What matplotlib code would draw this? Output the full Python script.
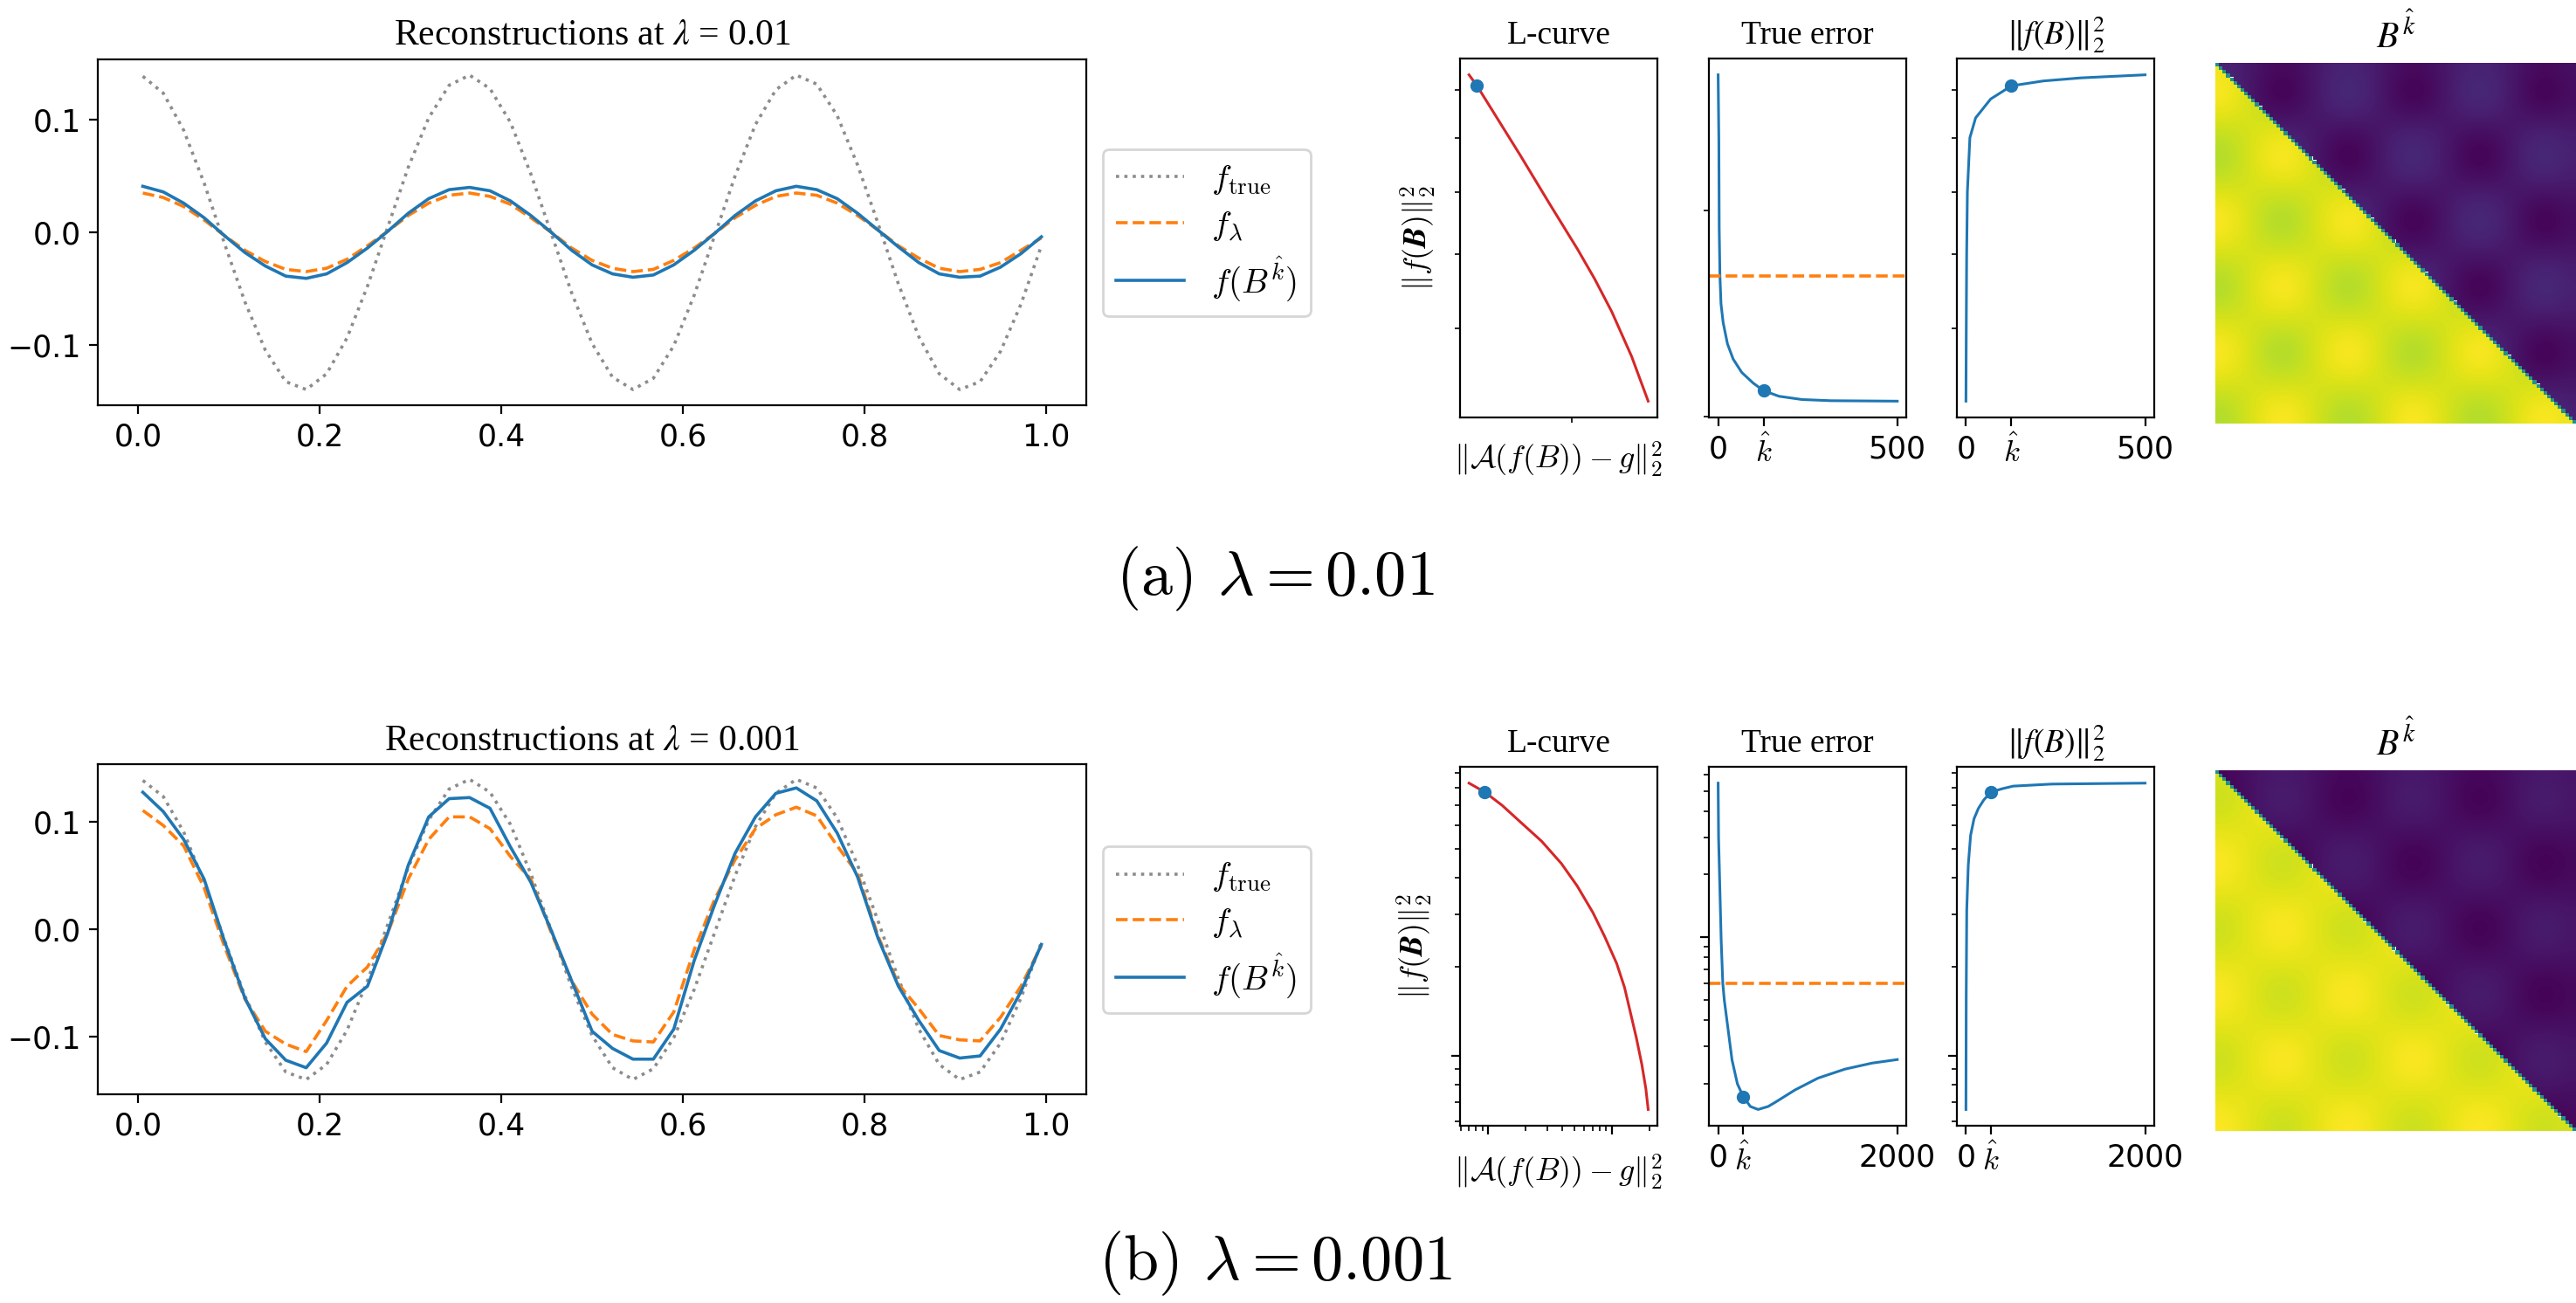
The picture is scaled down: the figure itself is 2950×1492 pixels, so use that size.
import matplotlib

matplotlib.use("Agg")
import matplotlib.pyplot as plt
import numpy as np
from matplotlib.patches import Polygon
from matplotlib.ticker import FixedLocator, NullFormatter

plt.rcParams["xtick.labelsize"] = 12.5
plt.rcParams["ytick.labelsize"] = 12.5

# sample positions of the reconstructions on [0, 1]
x_grid = np.linspace(0.005, 0.995, 45)

f_true = [0.139, 0.124, 0.091, 0.044, -0.010, -0.062, -0.105, -0.133, -0.140, -0.126,
          -0.094, -0.048, 0.005, 0.058, 0.102, 0.131, 0.140, 0.128, 0.098, 0.052,
          -0.001, -0.054, -0.099, -0.129, -0.140, -0.130, -0.101, -0.056, -0.003, 0.050,
          0.096, 0.127, 0.140, 0.132, 0.104, 0.060, 0.008, -0.046, -0.093, -0.126,
          -0.140, -0.133, -0.106, -0.064, -0.012]

# (a) lambda = 0.01
f_lam_a = [0.035, 0.031, 0.023, 0.011, -0.003, -0.016, -0.026, -0.033, -0.035, -0.032,
           -0.024, -0.012, 0.001, 0.015, 0.026, 0.033, 0.035, 0.032, 0.025, 0.013,
           0.000, -0.014, -0.025, -0.032, -0.035, -0.033, -0.025, -0.014, -0.001, 0.013,
           0.024, 0.032, 0.035, 0.033, 0.026, 0.015, 0.002, -0.012, -0.023, -0.032,
           -0.035, -0.033, -0.027, -0.016, -0.005]
f_bk_a = [0.041, 0.036, 0.026, 0.013, -0.003, -0.018, -0.030, -0.039, -0.041, -0.037,
          -0.027, -0.014, 0.001, 0.017, 0.030, 0.038, 0.040, 0.037, 0.028, 0.015,
          0.000, -0.016, -0.029, -0.037, -0.040, -0.038, -0.029, -0.016, -0.001, 0.015,
          0.028, 0.037, 0.041, 0.038, 0.030, 0.017, 0.002, -0.013, -0.027, -0.037,
          -0.040, -0.039, -0.031, -0.019, -0.004]

# (b) lambda = 0.001
f_lam_b = [0.111, 0.097, 0.078, 0.039, -0.016, -0.065, -0.095, -0.107, -0.114, -0.085,
           -0.053, -0.035, -0.003, 0.047, 0.084, 0.105, 0.105, 0.094, 0.068, 0.047,
           -0.003, -0.048, -0.079, -0.098, -0.104, -0.105, -0.077, -0.019, 0.028, 0.065,
           0.094, 0.107, 0.114, 0.106, 0.078, 0.052, -0.006, -0.051, -0.074, -0.099,
           -0.103, -0.104, -0.082, -0.053, -0.015]
f_bk_b = [0.128, 0.110, 0.084, 0.047, -0.011, -0.064, -0.102, -0.122, -0.129, -0.106,
          -0.068, -0.053, -0.003, 0.060, 0.105, 0.122, 0.123, 0.113, 0.077, 0.044,
          -0.001, -0.048, -0.095, -0.111, -0.121, -0.121, -0.093, -0.029, 0.023, 0.071,
          0.105, 0.127, 0.132, 0.120, 0.090, 0.049, -0.008, -0.053, -0.085, -0.113,
          -0.120, -0.118, -0.093, -0.058, -0.014]

# L-curve, true error and norm curves over iterations k
k_hat_a = 127
lc_res_a = [2.477, 2.364, 2.237, 2.132, 2.032, 1.877, 1.733, 1.534, 1.500]
lc_norm_a = [4.18, 4.67, 5.21, 5.65, 6.08, 6.81, 7.65, 9.09, 9.34]
lc_dot_a = (1.534, 9.09)
err_k_a = [0, 2, 3, 5, 8, 14, 26, 42, 66, 98, 127, 170, 234, 314, 500]
err_a = [4.83, 4.41, 3.90, 3.65, 3.51, 3.42, 3.32, 3.25, 3.19, 3.143, 3.11, 3.086, 3.072, 3.067, 3.065]
err_lam_a = 3.65
norm_k_a = [0, 1, 2, 4, 11, 27, 69, 127, 216, 321, 500]
norm_a = [4.18, 5.1, 6.0, 7.0, 8.0, 8.4, 8.8, 9.09, 9.2, 9.27, 9.34]

k_hat_b = 280
lc_res_b = [19.63, 18.79, 17.46, 15.76, 14.22, 12.65, 10.92, 8.76, 7.03, 5.245, 3.912,
            2.712, 1.878, 1.302, 0.943, 0.703]
lc_norm_b = [0.659, 0.775, 0.933, 1.149, 1.38, 1.70, 2.05, 2.52, 3.04, 3.74, 4.45,
             5.29, 6.08, 6.99, 7.75, 8.31]
lc_dot_b = (0.943, 7.75)
err_k_b = [0, 5, 17, 34, 52, 69, 112, 155, 215, 280, 360, 446, 558, 644, 858, 1116, 1416, 1717, 2000]
err_b = [5.47, 3.0, 1.87, 0.967, 0.604, 0.50, 0.36, 0.259, 0.199, 0.173, 0.155, 0.150,
         0.155, 0.163, 0.186, 0.212, 0.234, 0.250, 0.260]
err_lam_b = 0.604
norm_k_b = [0, 3, 9, 26, 52, 90, 139, 200, 280, 400, 528, 961, 2000]
norm_b = [0.659, 1.6, 3.11, 4.4, 5.54, 6.3, 6.83, 7.3, 7.75, 7.95, 8.12, 8.25, 8.31]

# B^k (100 x 100): lower triangle ~1, upper ~0, with a checkerboard ripple
# read on a 20 x 20 grid (one value per 5 cells)
n_cells = 100
col_wave = [0.94, 0.35, -0.48, -0.98, -0.79, -0.05, 0.72, 0.99, 0.57, -0.26,
            -0.90, -0.91, -0.28, 0.54, 0.99, 0.75, -0.02, -0.77, -0.99, -0.51]
row_wave_a = [0.65, 1.0, 0.65, -0.15, -0.85, -0.95, -0.39, 0.45, 0.97, 0.81,
              0.08, -0.70, -1.0, -0.59, 0.22, 0.89, 0.93, 0.32, -0.51, -0.98]
row_wave_b = [-0.65, -1.0, -0.65, 0.15, 0.85, 0.95, 0.39, -0.45, -0.97, -0.81,
              -0.08, 0.70, 1.0, 0.59, -0.22, -0.89, -0.93, -0.32, 0.51, 0.98]

serif = "Liberation Serif"


def draw_heat(ax, row_wave, amp):
    n = n_cells
    ripple = amp * np.outer(row_wave, col_wave)
    norm = plt.Normalize(-amp, 1 + amp)
    ext = (-0.5, n - 0.5, n - 0.5, -0.5)
    # staircase outline of the cells below the diagonal
    steps = np.arange(n - 1)
    xs = np.repeat(steps, 2) + np.tile([-0.5, 0.5], n - 1)
    ys = np.repeat(steps, 2) + 0.5
    lower = np.column_stack([np.r_[xs, n - 1.5, -0.5], np.r_[ys, n - 0.5, n - 0.5]])
    upper = lower[:, ::-1]
    for level, verts in ((1.0, lower), (0.0, upper)):
        im = ax.imshow(level + ripple, cmap="viridis", norm=norm, extent=ext,
                       interpolation="bicubic")
        im.set_clip_path(Polygon(verts, closed=True, transform=ax.transData))
    diag = np.ma.masked_array(np.full((n, n), 0.5), mask=~np.eye(n, dtype=bool))
    ax.imshow(diag, cmap="viridis", norm=norm, extent=ext, interpolation="nearest")
    ax.set_xlim(-0.5, n - 0.5)
    ax.set_ylim(n - 0.5, -0.5)
    ax.axis("off")


def draw_row(fig, y_main, h_main, y_small, y_heat, lam, f_lam, f_bk,
             lc_res, lc_norm, lc_dot, err_k, err, err_lam, norm_k, norm, k_hat, kmax,
             row_wave, amp, legend_y, small_top):
    ax = fig.add_axes([0.038, y_main, 0.3837, h_main])
    l1, = ax.plot(x_grid, f_true, ls=":", color="0.55", lw=1.3)
    l2, = ax.plot(x_grid, f_lam, ls="--", color="tab:orange", lw=1.3)
    l3, = ax.plot(x_grid, f_bk, ls="-", color="tab:blue", lw=1.3)
    ax.set_yticks([-0.1, 0.0, 0.1])
    ax.set_title(rf"Reconstructions at $\lambda$ = {lam}", family=serif,
                 math_fontfamily="stix", fontsize=15)
    leg = ax.legend([l1, l2, l3], [r"$f_{\mathrm{true}}$", r"$f_\lambda$", r"$f(B^{\hat{k}})$"],
                    loc="center left", bbox_to_anchor=(0.428, legend_y),
                    bbox_transform=fig.transFigure, borderaxespad=0, fontsize=14,
                    labelspacing=0.35)
    for t in leg.get_texts():
        t.set_math_fontfamily("cm")

    w = 0.0765
    h = 0.2755
    # L-curve
    axl = fig.add_axes([0.5668, y_small, w, h])
    axl.plot(lc_res, lc_norm, color="tab:red", lw=1.1)
    axl.plot(*lc_dot, "o", color="tab:blue", ms=4.5)
    axl.set_xscale("log")
    axl.set_yscale("log")
    if small_top:
        axl.xaxis.set_minor_locator(FixedLocator([2.0]))
    for a in (axl.xaxis, axl.yaxis):
        a.set_major_formatter(NullFormatter())
        a.set_minor_formatter(NullFormatter())
    axl.set_title("L-curve", family=serif, fontsize=13.5)
    axl.set_ylabel(r"$\|f(\boldsymbol{B})\|_2^2$", fontsize=13, math_fontfamily="cm")
    axl.set_xlabel(r"$\|\mathcal{A}(f(B)) - g\|_2^2$", fontsize=13, math_fontfamily="cm")

    # true error
    axe = fig.add_axes([0.6635, y_small, w, h])
    axe.plot(err_k, err, color="tab:blue", lw=1.1)
    axe.plot(k_hat, err[err_k.index(k_hat)], "o", color="tab:blue", ms=4.5)
    axe.axhline(err_lam, color="tab:orange", ls="--", lw=1.3)
    axe.set_yscale("log")
    axe.yaxis.set_major_formatter(NullFormatter())
    axe.yaxis.set_minor_formatter(NullFormatter())
    axe.set_title("True error", family=serif, fontsize=13.5)

    # norm of f(B)
    axn = fig.add_axes([0.7597, y_small, w, h])
    axn.plot(norm_k, norm, color="tab:blue", lw=1.1)
    axn.plot(k_hat, norm[norm_k.index(k_hat)], "o", color="tab:blue", ms=4.5)
    axn.set_yscale("log")
    axn.yaxis.set_major_formatter(NullFormatter())
    axn.yaxis.set_minor_formatter(NullFormatter())
    axn.set_title(r"$\|f(B)\|_2^2$", fontsize=13.5, math_fontfamily="stix")

    for a in (axe, axn):
        a.set_xticks([0, k_hat, kmax])
        a.set_xticklabels(["0", r"$\hat{k}$", str(kmax)])
        for t in a.get_xticklabels():
            t.set_math_fontfamily("cm")

    # B^k
    axh = fig.add_axes([0.86, y_heat, 0.14, 0.2768])
    draw_heat(axh, row_wave, amp)
    axh.set_title(r"$B^{\hat{k}}$", fontsize=15, math_fontfamily="stix")


fig = plt.figure(figsize=(14.75, 7.46), dpi=200)

draw_row(fig, 0.689, 0.2654, 0.6796, 0.675, "0.01", f_lam_a, f_bk_a,
         lc_res_a, lc_norm_a, lc_dot_a, err_k_a, err_a, err_lam_a, norm_k_a, norm_a,
         k_hat_a, 500, row_wave_a, 0.07, 0.8214, True)
draw_row(fig, 0.160, 0.2534, 0.136, 0.132, "0.001", f_lam_b, f_bk_b,
         lc_res_b, lc_norm_b, lc_dot_b, err_k_b, err_b, err_lam_b, norm_k_b, norm_b,
         k_hat_b, 2000, row_wave_b, 0.045, 0.2865, False)

fig.text(0.495, 0.556, r"(a) $\lambda = 0.01$", fontsize=26, family="cmr10",
         math_fontfamily="cm", ha="center", va="center")
fig.text(0.495, 0.030, r"(b) $\lambda = 0.001$", fontsize=26, family="cmr10",
         math_fontfamily="cm", ha="center", va="center")

fig.savefig("out.png", dpi=200)
